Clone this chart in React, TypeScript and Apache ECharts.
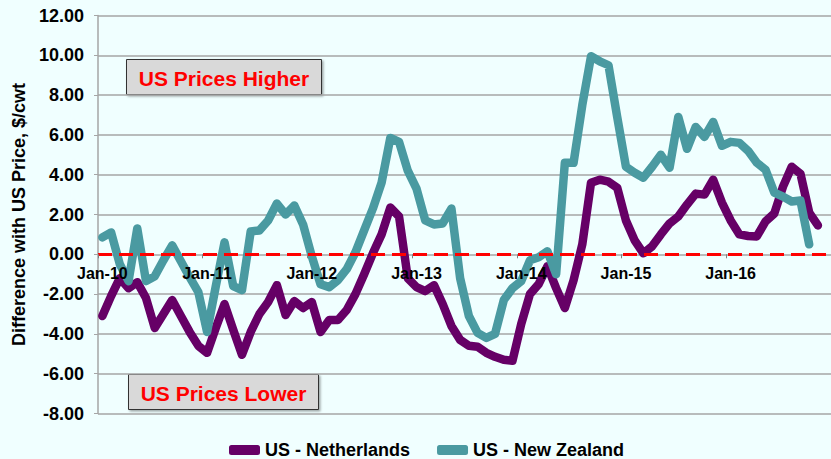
import React, { useEffect, useRef } from "react";
import * as echarts from "echarts";

const MONTHS = ["Jan", "Feb", "Mar", "Apr", "May", "Jun", "Jul", "Aug", "Sep", "Oct", "Nov", "Dec"];
const YEARS = ["10", "11", "12", "13", "14", "15", "16"];
const categories = YEARS.flatMap((y) => MONTHS.map((m) => `${m}-${y}`));

const netherlands = [
  -3.1, -2.1, -1.2, -1.7, -1.4, -2.2, -3.7, -3.0, -2.3, -3.1, -3.9, -4.6,
  -4.95, -3.7, -2.5, -3.8, -5.05, -3.9, -3.0, -2.4, -1.55, -3.05, -2.35, -2.7,
  -2.4, -3.9, -3.3, -3.3, -2.8, -2.0, -1.0, 0.05, 1.0, 2.35, 1.9, -1.2,
  -1.65, -1.85, -1.55, -2.5, -3.6, -4.3, -4.6, -4.65, -4.95, -5.15, -5.3, -5.35,
  -3.5, -2.0, -1.5, -0.6, -1.7, -2.7, -1.3, 0.5, 3.6, 3.75, 3.65, 3.35,
  1.7, 0.7, 0.05, 0.4, 1.0, 1.55, 1.9, 2.5, 3.05, 3.0, 3.75, 2.6,
  1.7, 1.0, 0.92, 0.9, 1.65, 2.05, 3.4, 4.4, 4.05, 2.1, 1.45,
];

const newZealand = [
  0.85, 1.1, -0.5, -1.35, 1.3, -1.35, -1.1, -0.3, 0.45, -0.35, -1.15, -1.9,
  -3.9, -1.6, 0.6, -1.6, -1.8, 1.15, 1.2, 1.7, 2.55, 2.0, 2.45, 1.5,
  -0.1, -1.5, -1.65, -1.3, -0.75, 0.1, 1.2, 2.3, 3.6, 5.85, 5.65, 4.2,
  3.3, 1.7, 1.5, 1.55, 2.3, -1.2, -3.1, -3.95, -4.2, -4.0, -2.3, -1.7,
  -1.35, -0.3, -0.15, 0.15, -1.0, 4.6, 4.6, 7.5, 9.95, 9.7, 9.5, 6.9,
  4.4, 4.1, 3.85, 4.4, 5.0, 4.35, 6.9, 5.3, 6.4, 5.9, 6.65, 5.45,
  5.65, 5.6, 5.2, 4.6, 4.25, 3.1, 2.9, 2.65, 2.7, 0.5,
];

const Y_MIN = -8;
const Y_MAX = 12;
const Y_STEP = 2;
const ZERO_LINE = 0;

const SERIES_NAMES = ["US - Netherlands", "US - New Zealand"];
const BOX_LABELS = ["US Prices Higher", "US Prices Lower"];
const Y_AXIS_TITLE = "Difference with US Price, $/cwt";

const FONT = 'Arial, "Liberation Sans", sans-serif';

const WIDTH = 831;
const HEIGHT = 459;
const GRID_TOP = 15.5;
const GRID_BOTTOM = 45.5;

export default function App() {
  const ref = useRef<HTMLDivElement>(null);

  useEffect(() => {
    if (!ref.current) return;
    const chart = echarts.init(ref.current, undefined, { renderer: "svg" });
    const gridColor = "#a6a6a6";
    const plotHeight = HEIGHT - GRID_TOP - GRID_BOTTOM;
    // place the category axis at the value 0 of the value axis
    const zeroOffset = -(plotHeight * (ZERO_LINE - Y_MIN)) / (Y_MAX - Y_MIN);

    const box = (left: number, top: number, w: number, h: number, text: string) => ({
      type: "group",
      left,
      top,
      children: [
        {
          type: "rect",
          shape: { x: 0, y: 0, width: w, height: h },
          style: {
            fill: "#d9d9d9",
            stroke: "#333333",
            lineWidth: 1,
            shadowBlur: 2,
            shadowOffsetX: 1.5,
            shadowOffsetY: 1.5,
            shadowColor: "rgba(0,0,0,0.35)",
          },
        },
        {
          type: "text",
          x: w / 2,
          y: h / 2 + 1,
          style: {
            text,
            fill: "#ff0000",
            fontSize: 21,
            fontWeight: "bold",
            fontFamily: FONT,
            align: "center",
            verticalAlign: "middle",
          },
        },
      ],
    });

    chart.setOption({
      animation: false,
      backgroundColor: "#f0ffff",
      textStyle: { fontFamily: FONT },
      grid: { left: 98, top: GRID_TOP, bottom: GRID_BOTTOM, right: -5, containLabel: false },
      legend: {
        data: SERIES_NAMES,
        left: 224,
        top: 436,
        itemWidth: 31,
        itemHeight: 10,
        itemGap: 27,
        icon: "roundRect",
        textStyle: { fontSize: 18, fontWeight: "bold", color: "#000", fontFamily: FONT },
      },
      xAxis: {
        type: "category",
        data: categories,
        boundaryGap: true,
        position: "bottom",
        offset: zeroOffset,
        z: 10,
        axisLine: { show: false, onZero: false },
        axisTick: { show: true, interval: 11, length: 4, lineStyle: { color: "#808080" } },
        axisLabel: {
          interval: 11,
          margin: 11,
          fontSize: 16,
          fontWeight: "bold",
          color: "#000",
          fontFamily: FONT,
        },
        splitLine: { show: false },
      },
      yAxis: {
        type: "value",
        min: Y_MIN,
        max: Y_MAX,
        interval: Y_STEP,
        name: Y_AXIS_TITLE,
        nameLocation: "middle",
        nameRotate: 90,
        nameGap: 64,
        nameTextStyle: { fontSize: 18, fontWeight: "bold", color: "#000", fontFamily: FONT },
        axisLine: { show: true, onZero: false, lineStyle: { color: gridColor, width: 1.5 } },
        axisTick: { show: true, length: 4, lineStyle: { color: gridColor } },
        axisLabel: {
          formatter: (v: number) => v.toFixed(2),
          fontSize: 18,
          fontWeight: "bold",
          color: "#000",
          margin: 14,
          fontFamily: FONT,
        },
        splitLine: { show: true, lineStyle: { color: gridColor, width: 1.5 } },
      },
      series: [
        {
          name: SERIES_NAMES[0],
          type: "line",
          data: netherlands,
          showSymbol: false,
          symbol: "none",
          color: "#660066",
          lineStyle: { color: "#660066", width: 8.5, join: "round", cap: "round" },
          z: 3,
          markLine: {
            silent: true,
            symbol: "none",
            label: { show: false },
            data: [{ yAxis: ZERO_LINE }],
            lineStyle: {
              color: "#ff0000",
              width: 3,
              type: [14, 7],
            },
          },
        },
        {
          name: SERIES_NAMES[1],
          type: "line",
          data: newZealand,
          showSymbol: false,
          symbol: "none",
          color: "#4a9aa1",
          lineStyle: { color: "#4a9aa1", width: 8.5, join: "round", cap: "round" },
          z: 4,
        },
      ],
      graphic: [
        box(126, 59, 195, 35, BOX_LABELS[0]),
        box(128, 374, 190, 35, BOX_LABELS[1]),
      ],
    });

    return () => chart.dispose();
  }, []);

  return (
    <div
      ref={ref}
      style={{ position: "absolute", left: 0, top: 0, width: WIDTH, height: HEIGHT, background: "#f0ffff" }}
    />
  );
}
